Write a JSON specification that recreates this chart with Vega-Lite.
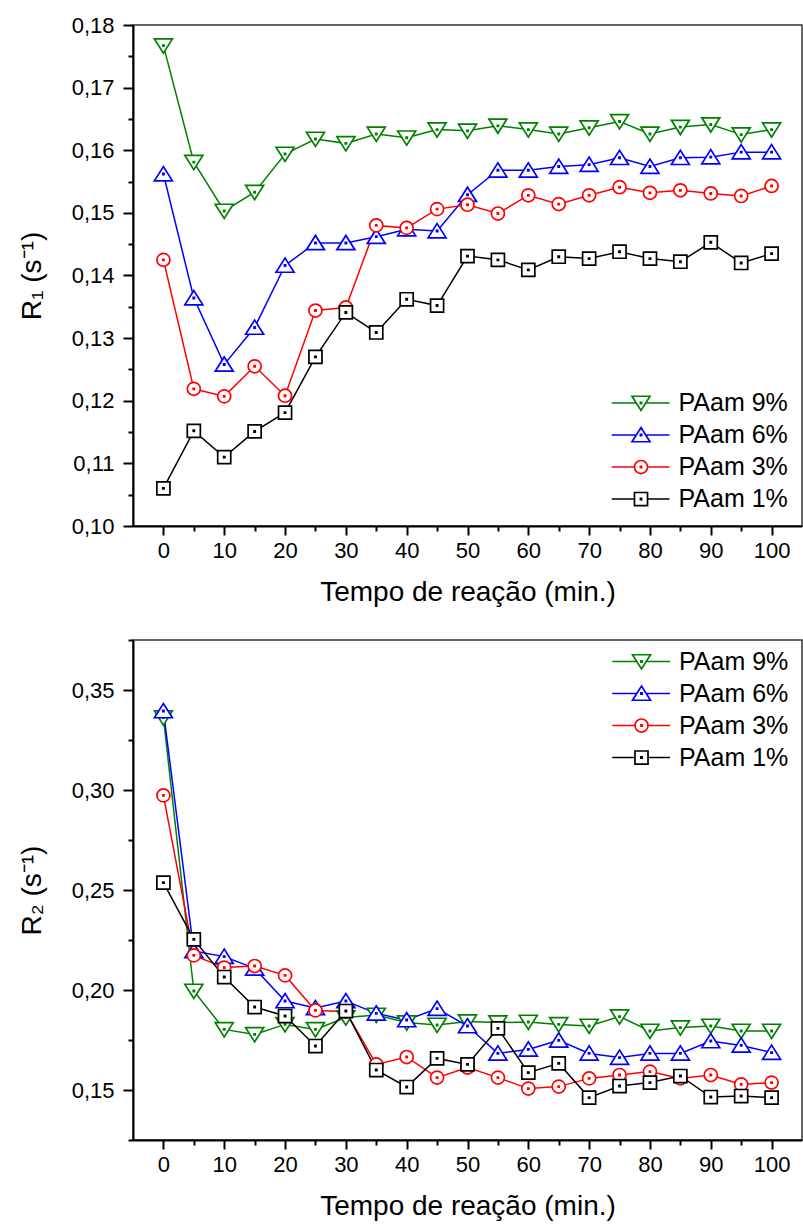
{
  "$schema": "https://vega.github.io/schema/vega-lite/v6.json",
  "padding": {"left": 17, "top": 13, "right": 0, "bottom": 0},
  "background": "white",
  "spacing": 21,
  "config": {
    "font": "Liberation Sans",
    "view": {"stroke": "#333333", "strokeWidth": 1.5},
    "axis": {
      "domainColor": "black", "domainWidth": 2, "tickColor": "black", "tickWidth": 2,
      "labelColor": "black", "labelFont": "Liberation Sans", "labelFontSize": 22,
      "titleFont": "Liberation Sans", "titleFontSize": 28, "titleFontWeight": "normal", "titleColor": "black",
      "grid": false, "labelOverlap": false, "labelFlush": false
    },
    "legend": {
      "labelFont": "Liberation Sans", "labelFontSize": 25, "labelColor": "black",
      "symbolSize": 225, "symbolStrokeWidth": 1.7, "symbolOpacity": 1, "rowPadding": 6, "padding": 0,
      "labelOffset": 25, "symbolOffset": 0
    }
  },
  "resolve": {"scale": {"x": "independent", "y": "independent", "color": "independent", "shape": "independent"}},
  "datasets": {
    "r1": [
      {"t":0,"s":"PAam 9%","v":0.1767},{"t":5,"s":"PAam 9%","v":0.1581},{"t":10,"s":"PAam 9%","v":0.1503},{"t":15,"s":"PAam 9%","v":0.1533},{"t":20,"s":"PAam 9%","v":0.1594},{"t":25,"s":"PAam 9%","v":0.1618},{"t":30,"s":"PAam 9%","v":0.1611},{"t":35,"s":"PAam 9%","v":0.1626},{"t":40,"s":"PAam 9%","v":0.1620},{"t":45,"s":"PAam 9%","v":0.1633},{"t":50,"s":"PAam 9%","v":0.1631},{"t":55,"s":"PAam 9%","v":0.1639},{"t":60,"s":"PAam 9%","v":0.1633},{"t":65,"s":"PAam 9%","v":0.1626},{"t":70,"s":"PAam 9%","v":0.1636},{"t":75,"s":"PAam 9%","v":0.1646},{"t":80,"s":"PAam 9%","v":0.1626},{"t":85,"s":"PAam 9%","v":0.1637},{"t":90,"s":"PAam 9%","v":0.1641},{"t":95,"s":"PAam 9%","v":0.1625},{"t":100,"s":"PAam 9%","v":0.1633},
      {"t":0,"s":"PAam 6%","v":0.1562},{"t":5,"s":"PAam 6%","v":0.1364},{"t":10,"s":"PAam 6%","v":0.1258},{"t":15,"s":"PAam 6%","v":0.1317},{"t":20,"s":"PAam 6%","v":0.1416},{"t":25,"s":"PAam 6%","v":0.1452},{"t":30,"s":"PAam 6%","v":0.1452},{"t":35,"s":"PAam 6%","v":0.1462},{"t":40,"s":"PAam 6%","v":0.1474},{"t":45,"s":"PAam 6%","v":0.1471},{"t":50,"s":"PAam 6%","v":0.1529},{"t":55,"s":"PAam 6%","v":0.1568},{"t":60,"s":"PAam 6%","v":0.1568},{"t":65,"s":"PAam 6%","v":0.1574},{"t":70,"s":"PAam 6%","v":0.1577},{"t":75,"s":"PAam 6%","v":0.1588},{"t":80,"s":"PAam 6%","v":0.1574},{"t":85,"s":"PAam 6%","v":0.1588},{"t":90,"s":"PAam 6%","v":0.1589},{"t":95,"s":"PAam 6%","v":0.1597},{"t":100,"s":"PAam 6%","v":0.1597},
      {"t":0,"s":"PAam 3%","v":0.1425},{"t":5,"s":"PAam 3%","v":0.1219},{"t":10,"s":"PAam 3%","v":0.1207},{"t":15,"s":"PAam 3%","v":0.1255},{"t":20,"s":"PAam 3%","v":0.1208},{"t":25,"s":"PAam 3%","v":0.1344},{"t":30,"s":"PAam 3%","v":0.1349},{"t":35,"s":"PAam 3%","v":0.1480},{"t":40,"s":"PAam 3%","v":0.1476},{"t":45,"s":"PAam 3%","v":0.1506},{"t":50,"s":"PAam 3%","v":0.1513},{"t":55,"s":"PAam 3%","v":0.1499},{"t":60,"s":"PAam 3%","v":0.1528},{"t":65,"s":"PAam 3%","v":0.1514},{"t":70,"s":"PAam 3%","v":0.1528},{"t":75,"s":"PAam 3%","v":0.1541},{"t":80,"s":"PAam 3%","v":0.1532},{"t":85,"s":"PAam 3%","v":0.1536},{"t":90,"s":"PAam 3%","v":0.1531},{"t":95,"s":"PAam 3%","v":0.1527},{"t":100,"s":"PAam 3%","v":0.1543},
      {"t":0,"s":"PAam 1%","v":0.1060},{"t":5,"s":"PAam 1%","v":0.1152},{"t":10,"s":"PAam 1%","v":0.1110},{"t":15,"s":"PAam 1%","v":0.1151},{"t":20,"s":"PAam 1%","v":0.1181},{"t":25,"s":"PAam 1%","v":0.1270},{"t":30,"s":"PAam 1%","v":0.1341},{"t":35,"s":"PAam 1%","v":0.1309},{"t":40,"s":"PAam 1%","v":0.1362},{"t":45,"s":"PAam 1%","v":0.1352},{"t":50,"s":"PAam 1%","v":0.1431},{"t":55,"s":"PAam 1%","v":0.1425},{"t":60,"s":"PAam 1%","v":0.1409},{"t":65,"s":"PAam 1%","v":0.1430},{"t":70,"s":"PAam 1%","v":0.1427},{"t":75,"s":"PAam 1%","v":0.1438},{"t":80,"s":"PAam 1%","v":0.1427},{"t":85,"s":"PAam 1%","v":0.1422},{"t":90,"s":"PAam 1%","v":0.1453},{"t":95,"s":"PAam 1%","v":0.1420},{"t":100,"s":"PAam 1%","v":0.1435}
    ],
    "r2": [
      {"t":0,"s":"PAam 9%","v":0.3362},{"t":5,"s":"PAam 9%","v":0.1995},{"t":10,"s":"PAam 9%","v":0.1803},{"t":15,"s":"PAam 9%","v":0.1778},{"t":20,"s":"PAam 9%","v":0.1828},{"t":25,"s":"PAam 9%","v":0.1803},{"t":30,"s":"PAam 9%","v":0.1862},{"t":35,"s":"PAam 9%","v":0.1875},{"t":40,"s":"PAam 9%","v":0.1837},{"t":45,"s":"PAam 9%","v":0.1825},{"t":50,"s":"PAam 9%","v":0.1842},{"t":55,"s":"PAam 9%","v":0.1837},{"t":60,"s":"PAam 9%","v":0.1840},{"t":65,"s":"PAam 9%","v":0.1828},{"t":70,"s":"PAam 9%","v":0.1820},{"t":75,"s":"PAam 9%","v":0.1867},{"t":80,"s":"PAam 9%","v":0.1795},{"t":85,"s":"PAam 9%","v":0.1812},{"t":90,"s":"PAam 9%","v":0.1820},{"t":95,"s":"PAam 9%","v":0.1795},{"t":100,"s":"PAam 9%","v":0.1795},
      {"t":0,"s":"PAam 6%","v":0.3395},{"t":5,"s":"PAam 6%","v":0.2195},{"t":10,"s":"PAam 6%","v":0.2167},{"t":15,"s":"PAam 6%","v":0.2108},{"t":20,"s":"PAam 6%","v":0.1945},{"t":25,"s":"PAam 6%","v":0.1910},{"t":30,"s":"PAam 6%","v":0.1945},{"t":35,"s":"PAam 6%","v":0.1883},{"t":40,"s":"PAam 6%","v":0.1850},{"t":45,"s":"PAam 6%","v":0.1907},{"t":50,"s":"PAam 6%","v":0.1820},{"t":55,"s":"PAam 6%","v":0.1683},{"t":60,"s":"PAam 6%","v":0.1703},{"t":65,"s":"PAam 6%","v":0.1748},{"t":70,"s":"PAam 6%","v":0.1683},{"t":75,"s":"PAam 6%","v":0.1662},{"t":80,"s":"PAam 6%","v":0.1683},{"t":85,"s":"PAam 6%","v":0.1683},{"t":90,"s":"PAam 6%","v":0.1745},{"t":95,"s":"PAam 6%","v":0.1723},{"t":100,"s":"PAam 6%","v":0.1687},
      {"t":0,"s":"PAam 3%","v":0.2973},{"t":5,"s":"PAam 3%","v":0.2173},{"t":10,"s":"PAam 3%","v":0.2112},{"t":15,"s":"PAam 3%","v":0.2120},{"t":20,"s":"PAam 3%","v":0.2073},{"t":25,"s":"PAam 3%","v":0.1898},{"t":30,"s":"PAam 3%","v":0.1892},{"t":35,"s":"PAam 3%","v":0.1628},{"t":40,"s":"PAam 3%","v":0.1665},{"t":45,"s":"PAam 3%","v":0.1562},{"t":50,"s":"PAam 3%","v":0.1612},{"t":55,"s":"PAam 3%","v":0.1562},{"t":60,"s":"PAam 3%","v":0.1507},{"t":65,"s":"PAam 3%","v":0.1517},{"t":70,"s":"PAam 3%","v":0.1558},{"t":75,"s":"PAam 3%","v":0.1575},{"t":80,"s":"PAam 3%","v":0.1592},{"t":85,"s":"PAam 3%","v":0.1558},{"t":90,"s":"PAam 3%","v":0.1575},{"t":95,"s":"PAam 3%","v":0.1528},{"t":100,"s":"PAam 3%","v":0.1537},
      {"t":0,"s":"PAam 1%","v":0.2537},{"t":5,"s":"PAam 1%","v":0.2253},{"t":10,"s":"PAam 1%","v":0.2065},{"t":15,"s":"PAam 1%","v":0.1915},{"t":20,"s":"PAam 1%","v":0.1870},{"t":25,"s":"PAam 1%","v":0.1720},{"t":30,"s":"PAam 1%","v":0.1895},{"t":35,"s":"PAam 1%","v":0.1600},{"t":40,"s":"PAam 1%","v":0.1515},{"t":45,"s":"PAam 1%","v":0.1658},{"t":50,"s":"PAam 1%","v":0.1628},{"t":55,"s":"PAam 1%","v":0.1808},{"t":60,"s":"PAam 1%","v":0.1587},{"t":65,"s":"PAam 1%","v":0.1633},{"t":70,"s":"PAam 1%","v":0.1462},{"t":75,"s":"PAam 1%","v":0.1520},{"t":80,"s":"PAam 1%","v":0.1537},{"t":85,"s":"PAam 1%","v":0.1570},{"t":90,"s":"PAam 1%","v":0.1465},{"t":95,"s":"PAam 1%","v":0.1470},{"t":100,"s":"PAam 1%","v":0.1462}
    ]
  },
  "vconcat": [
    {
      "width": 669, "height": 501,
      "data": {"name": "r1"},
      "encoding": {
        "x": {"field": "t", "type": "quantitative", "scale": {"domain": [-5, 105], "nice": false, "zero": false},
          "axis": {"title": "Tempo de reação (min.)", "values": [0,5,10,15,20,25,30,35,40,45,50,55,60,65,70,75,80,85,90,95,100],
            "labelExpr": "datum.value % 10 === 0 ? datum.label : ''",
            "tickSize": {"condition": {"test": "datum.value % 10 === 0", "value": 9}, "value": 5},
            "labelPadding": 5, "titlePadding": 17}},
        "y": {"field": "v", "type": "quantitative", "scale": {"domain": [0.10, 0.18], "nice": false, "zero": false},
          "axis": {"title": "R₁ (s⁻¹)", "values": [0.1,0.105,0.11,0.115,0.12,0.125,0.13,0.135,0.14,0.145,0.15,0.155,0.16,0.165,0.17,0.175,0.18],
            "labelExpr": "abs(datum.value*100 - round(datum.value*100)) < 0.01 ? replace(format(datum.value, '.2f'), '.', ',') : ''",
            "tickSize": {"condition": {"test": "abs(datum.value*100 - round(datum.value*100)) < 0.01", "value": 10}, "value": 5},
            "labelPadding": 9, "titlePadding": 25}}
      },
      "layer": [
        {"mark": {"type": "line", "strokeWidth": 1.5},
          "encoding": {"color": {"field": "s", "type": "nominal",
            "scale": {"domain": ["PAam 9%", "PAam 6%", "PAam 3%", "PAam 1%"], "range": ["#008000", "#0000ff", "#ff0000", "#000000"]},
            "legend": null}}},
        {"mark": {"type": "point", "filled": false, "fill": "white", "fillOpacity": 1, "opacity": 1, "strokeWidth": 1.7, "size": 225},
          "encoding": {
            "color": {"field": "s", "type": "nominal", "legend": null},
            "shape": {"field": "s", "type": "nominal",
              "scale": {"domain": ["PAam 9%", "PAam 6%", "PAam 3%", "PAam 1%"],
                "range": ["M-1.2,-0.9L1.2,-0.9L0,1ZM-0.08,-0.08H0.08V0.08H-0.08Z", "M-1.2,0.9L1.2,0.9L0,-1ZM-0.08,-0.08H0.08V0.08H-0.08Z", "M0.87,0A0.87,0.87,0,1,1,-0.87,0A0.87,0.87,0,1,1,0.87,0ZM-0.08,-0.08H0.08V0.08H-0.08Z", "M-0.87,-0.87H0.87V0.87H-0.87ZM-0.08,-0.08H0.08V0.08H-0.08Z"]},
              "legend": null}}},
        {"mark": {"type": "point", "filled": false, "fill": "white", "opacity": 0, "strokeWidth": 1.7, "size": 225},
          "encoding": {
            "color": {"field": "s", "type": "nominal", "legend": {"title": null, "orient": "none", "legendX": 495.5, "legendY": 365.5}},
            "shape": {"field": "s", "type": "nominal",
              "scale": {"domain": ["PAam 9%", "PAam 6%", "PAam 3%", "PAam 1%"],
                "range": ["M-3.9,0H-0.63M0.63,0H3.8M-1.2,-0.9L1.2,-0.9L0,1ZM-0.08,-0.08H0.08V0.08H-0.08Z", "M-3.9,0H-0.63M0.63,0H3.8M-1.2,0.9L1.2,0.9L0,-1ZM-0.08,-0.08H0.08V0.08H-0.08Z", "M-3.9,0H-0.87M0.87,0H3.8M0.87,0A0.87,0.87,0,1,1,-0.87,0A0.87,0.87,0,1,1,0.87,0ZM-0.08,-0.08H0.08V0.08H-0.08Z", "M-3.9,0H-0.87M0.87,0H3.8M-0.87,-0.87H0.87V0.87H-0.87ZM-0.08,-0.08H0.08V0.08H-0.08Z"]},
              "legend": {"title": null, "orient": "none", "legendX": 495.5, "legendY": 365.5}}}}
      ],
      "resolve": {"scale": {"shape": "independent"}, "legend": {"color": "independent", "shape": "independent"}}
    },
    {
      "width": 669, "height": 500,
      "data": {"name": "r2"},
      "encoding": {
        "x": {"field": "t", "type": "quantitative", "scale": {"domain": [-5, 105], "nice": false, "zero": false},
          "axis": {"title": "Tempo de reação (min.)", "values": [0,5,10,15,20,25,30,35,40,45,50,55,60,65,70,75,80,85,90,95,100],
            "labelExpr": "datum.value % 10 === 0 ? datum.label : ''",
            "tickSize": {"condition": {"test": "datum.value % 10 === 0", "value": 9}, "value": 5},
            "labelPadding": 5, "titlePadding": 17}},
        "y": {"field": "v", "type": "quantitative", "scale": {"domain": [0.125, 0.375], "nice": false, "zero": false},
          "axis": {"title": "R₂ (s⁻¹)", "values": [0.125,0.15,0.175,0.2,0.225,0.25,0.275,0.3,0.325,0.35,0.375],
            "labelExpr": "abs(datum.value*20 - round(datum.value*20)) < 0.01 ? replace(format(datum.value, '.2f'), '.', ',') : ''",
            "tickSize": {"condition": {"test": "abs(datum.value*20 - round(datum.value*20)) < 0.01", "value": 10}, "value": 5},
            "labelPadding": 9, "titlePadding": 25}}
      },
      "layer": [
        {"mark": {"type": "line", "strokeWidth": 1.5},
          "encoding": {"color": {"field": "s", "type": "nominal",
            "scale": {"domain": ["PAam 9%", "PAam 6%", "PAam 3%", "PAam 1%"], "range": ["#008000", "#0000ff", "#ff0000", "#000000"]},
            "legend": null}}},
        {"mark": {"type": "point", "filled": false, "fill": "white", "fillOpacity": 1, "opacity": 1, "strokeWidth": 1.7, "size": 225},
          "encoding": {
            "color": {"field": "s", "type": "nominal", "legend": null},
            "shape": {"field": "s", "type": "nominal",
              "scale": {"domain": ["PAam 9%", "PAam 6%", "PAam 3%", "PAam 1%"],
                "range": ["M-1.2,-0.9L1.2,-0.9L0,1ZM-0.08,-0.08H0.08V0.08H-0.08Z", "M-1.2,0.9L1.2,0.9L0,-1ZM-0.08,-0.08H0.08V0.08H-0.08Z", "M0.87,0A0.87,0.87,0,1,1,-0.87,0A0.87,0.87,0,1,1,0.87,0ZM-0.08,-0.08H0.08V0.08H-0.08Z", "M-0.87,-0.87H0.87V0.87H-0.87ZM-0.08,-0.08H0.08V0.08H-0.08Z"]},
              "legend": null}}},
        {"mark": {"type": "point", "filled": false, "fill": "white", "opacity": 0, "strokeWidth": 1.7, "size": 225},
          "encoding": {
            "color": {"field": "s", "type": "nominal", "legend": {"title": null, "orient": "none", "legendX": 496, "legendY": 9}},
            "shape": {"field": "s", "type": "nominal",
              "scale": {"domain": ["PAam 9%", "PAam 6%", "PAam 3%", "PAam 1%"],
                "range": ["M-3.9,0H-0.63M0.63,0H3.8M-1.2,-0.9L1.2,-0.9L0,1ZM-0.08,-0.08H0.08V0.08H-0.08Z", "M-3.9,0H-0.63M0.63,0H3.8M-1.2,0.9L1.2,0.9L0,-1ZM-0.08,-0.08H0.08V0.08H-0.08Z", "M-3.9,0H-0.87M0.87,0H3.8M0.87,0A0.87,0.87,0,1,1,-0.87,0A0.87,0.87,0,1,1,0.87,0ZM-0.08,-0.08H0.08V0.08H-0.08Z", "M-3.9,0H-0.87M0.87,0H3.8M-0.87,-0.87H0.87V0.87H-0.87ZM-0.08,-0.08H0.08V0.08H-0.08Z"]},
              "legend": {"title": null, "orient": "none", "legendX": 496, "legendY": 9}}}}
      ],
      "resolve": {"scale": {"shape": "independent"}, "legend": {"color": "independent", "shape": "independent"}}
    }
  ]
}
